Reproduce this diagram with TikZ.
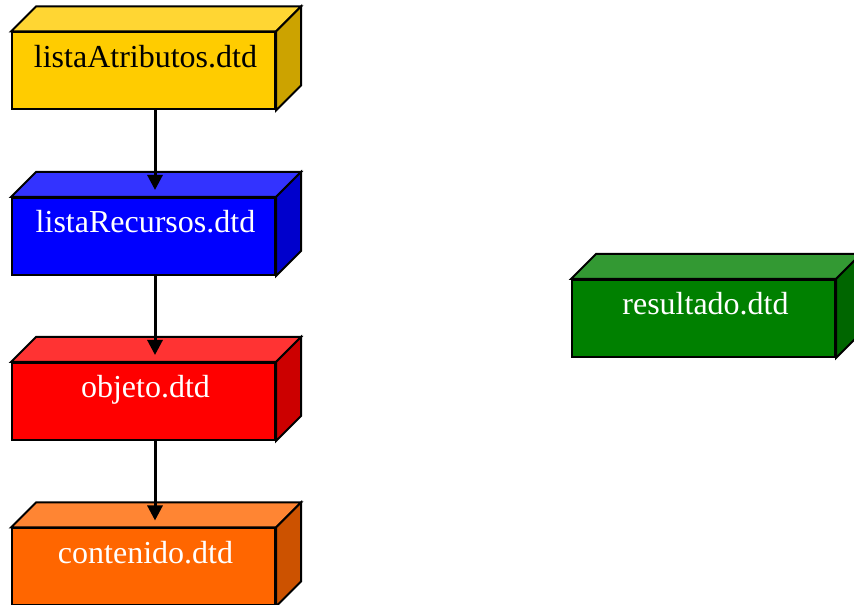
\documentclass[tikz,border=0pt]{standalone}
\usepackage{fontspec}
\setmainfont{Liberation Serif}
\usetikzlibrary{arrows.meta}

\definecolor{attrC}{HTML}{FFCC00}
\definecolor{recC}{HTML}{0000FF}
\definecolor{objC}{HTML}{FF0000}
\definecolor{contC}{HTML}{FF6600}
\definecolor{resC}{HTML}{008000}

% top and right faces of a block whose front face is node #1
\newcommand\cuboidfaces[2]{%
  \filldraw[face, fill=#2!80!white] (#1.north west) -- ++(25,25)
    -- ([shift={(25,25)}]#1.north east) -- (#1.north east) -- cycle;
  \filldraw[face, fill=#2!80!black] (#1.north east) -- ++(25,25)
    -- ([shift={(25,25)}]#1.south east) -- (#1.south east) -- cycle;
}

\begin{document}
\begin{tikzpicture}[x=1pt, y=1pt,
  face/.style={draw=black, line width=2pt},
  dtdbox/.style={draw=black, line width=2pt, rectangle,
    minimum width=263pt, minimum height=77pt, inner sep=0pt,
    text height=35pt, text depth=42pt,
    execute at begin node=\hspace*{4pt},
    font=\fontsize{32}{38}\selectfont},
  link/.style={line width=3pt, -{Triangle[length=15pt,width=15pt]}}]
  \useasboundingbox (0,0) rectangle (854,605);

  \node[dtdbox, fill=attrC, text=black] (attr) at (143.5,534) {listaAtributos.dtd};
  \cuboidfaces{attr}{attrC}
  \node[dtdbox, fill=recC, text=white] (rec) at (143.5,368.5) {listaRecursos.dtd};
  \cuboidfaces{rec}{recC}
  \node[dtdbox, fill=objC, text=white] (obj) at (143.5,203.5) {objeto.dtd};
  \cuboidfaces{obj}{objC}
  \node[dtdbox, fill=contC, text=white] (cont) at (143.5,38) {contenido.dtd};
  \cuboidfaces{cont}{contC}
  \node[dtdbox, fill=resC, text=white] (res) at (703.5,286.5) {resultado.dtd};
  \cuboidfaces{res}{resC}

  \draw[link] ([xshift=11.5pt]attr.south) -- ([xshift=11.5pt,yshift=7pt]rec.north);
  \draw[link] ([xshift=11.5pt]rec.south) -- ([xshift=11.5pt,yshift=7pt]obj.north);
  \draw[link] ([xshift=11.5pt]obj.south) -- ([xshift=11.5pt,yshift=7pt]cont.north);
\end{tikzpicture}
\end{document}
